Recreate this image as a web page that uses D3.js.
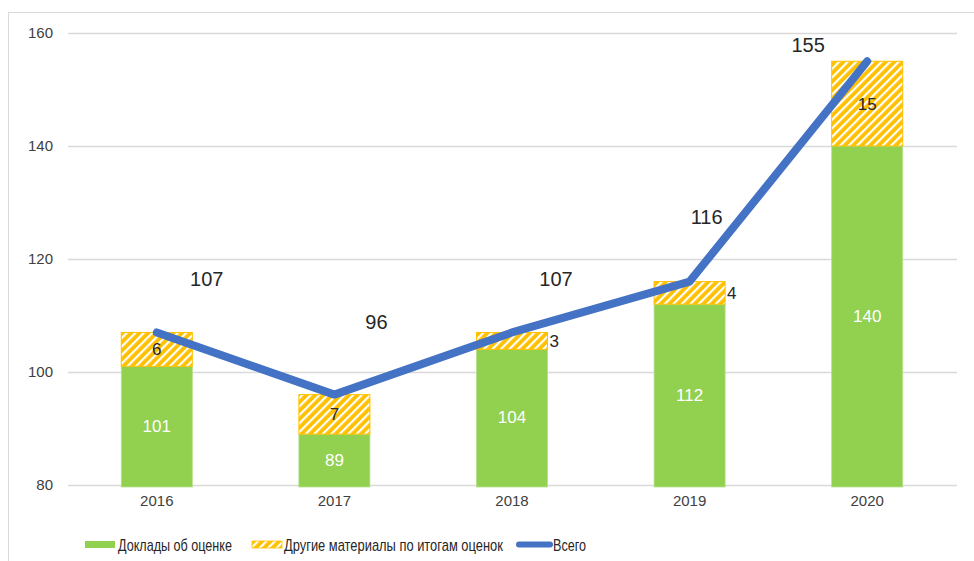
<!DOCTYPE html>
<html>
<head>
<meta charset="utf-8">
<script src="https://cdn.jsdelivr.net/npm/d3@7"></script>
<style>
  body { margin: 0; background: #fff; }
  svg { display: block; font-family: Arial, "Liberation Sans", sans-serif; }
</style>
</head>
<body>
<svg id="chart" width="974" height="561"></svg>
<script>
const years = ['2016', '2017', '2018', '2019', '2020'];
const reports = [101, 89, 104, 112, 140];
const otherMaterials = [6, 7, 3, 4, 15];
const totals = [107, 96, 107, 116, 155];
const yTicks = [80, 100, 120, 140, 160];
const legendLabels = ['Доклады об оценке', 'Другие материалы по итогам оценок', 'Всего'];

// hand-placed label offsets (px) as in the original
const totalLabelOffsets = [[50, -53], [42, -73], [44, -53], [17, -65], [-59, -16]];

const svg = d3.select('#chart');
const green = '#92D050';
const orange = '#FFC000';
const blue = '#4472C4';
const textColor = '#262626';

// frame
svg.append('rect')
  .attr('x', 8.5).attr('y', 12.5)
  .attr('width', 1000).attr('height', 1000)
  .attr('fill', 'none')
  .attr('stroke', '#d9d9d9');

const defs = svg.append('defs');
const pat = defs.append('pattern')
  .attr('id', 'hatch')
  .attr('patternUnits', 'userSpaceOnUse')
  .attr('width', 6).attr('height', 6)
  .attr('patternTransform', 'rotate(45)');
pat.append('rect').attr('width', 6).attr('height', 6).attr('fill', orange);
pat.append('rect').attr('x', 0).attr('width', 2.2).attr('height', 6).attr('fill', '#fff');

const x = d3.scaleBand()
  .domain(years)
  .range([68, 956])
  .paddingInner(0.6)
  .paddingOuter(0.3);

const y = d3.scaleLinear()
  .domain([80, 160])
  .range([485, 33]);

const cx = d => x(d) + x.bandwidth() / 2;

// gridlines
svg.append('g')
  .selectAll('line')
  .data(yTicks)
  .enter()
  .append('line')
  .attr('x1', 68).attr('x2', 957)
  .attr('y1', d => y(d) + 0.5).attr('y2', d => y(d) + 0.5)
  .attr('stroke', '#d9d9d9')
  .attr('stroke-width', 1.5);

// y tick labels
svg.append('g')
  .selectAll('text')
  .data(yTicks)
  .enter()
  .append('text')
  .attr('x', 53)
  .attr('y', d => y(d) + 5)
  .attr('text-anchor', 'end')
  .attr('font-size', 15)
  .attr('fill', '#404040')
  .text(d => d);

// x labels
svg.append('g')
  .selectAll('text')
  .data(years)
  .enter()
  .append('text')
  .attr('x', cx)
  .attr('y', 506)
  .attr('text-anchor', 'middle')
  .attr('font-size', 15)
  .attr('fill', '#404040')
  .text(d => d);

// green bars
svg.append('g')
  .selectAll('rect')
  .data(years)
  .enter()
  .append('rect')
  .attr('x', d => x(d))
  .attr('y', (d, i) => y(reports[i]))
  .attr('width', x.bandwidth())
  .attr('height', (d, i) => y(80) - y(reports[i]) + 2)
  .attr('fill', green)
  .attr('stroke', '#b5e08a')
  .attr('stroke-width', 0.8);

// hatched bars
svg.append('g')
  .selectAll('rect')
  .data(years)
  .enter()
  .append('rect')
  .attr('x', d => x(d))
  .attr('y', (d, i) => y(reports[i] + otherMaterials[i]))
  .attr('width', x.bandwidth())
  .attr('height', (d, i) => y(reports[i]) - y(reports[i] + otherMaterials[i]))
  .attr('fill', 'url(#hatch)')
  .attr('stroke', orange)
  .attr('stroke-width', 1);

// green labels
svg.append('g')
  .selectAll('text')
  .data(years)
  .enter()
  .append('text')
  .attr('x', cx)
  .attr('y', (d, i) => (y(reports[i]) + y(80)) / 2 + 6)
  .attr('text-anchor', 'middle')
  .attr('font-size', 17)
  .attr('fill', '#fff')
  .text((d, i) => reports[i]);

// other-material labels (small segments get the label beside the bar)
svg.append('g')
  .selectAll('text')
  .data(years)
  .enter()
  .append('text')
  .attr('x', (d, i) => otherMaterials[i] < 5 ? x(d) + x.bandwidth() + 2 : cx(d))
  .attr('y', (d, i) => (y(reports[i]) + y(reports[i] + otherMaterials[i])) / 2 + 6)
  .attr('text-anchor', (d, i) => otherMaterials[i] < 5 ? 'start' : 'middle')
  .attr('font-size', 17)
  .attr('fill', textColor)
  .text((d, i) => otherMaterials[i]);

// total line
const line = d3.line()
  .x((d, i) => cx(years[i]))
  .y(d => y(d));

svg.append('path')
  .datum(totals)
  .attr('d', line)
  .attr('fill', 'none')
  .attr('stroke', blue)
  .attr('stroke-width', 8)
  .attr('stroke-linecap', 'round')
  .attr('stroke-linejoin', 'round');

// total labels
svg.append('g')
  .selectAll('text')
  .data(totals)
  .enter()
  .append('text')
  .attr('x', (d, i) => cx(years[i]) + totalLabelOffsets[i][0])
  .attr('y', (d, i) => y(d) + totalLabelOffsets[i][1] + 7)
  .attr('text-anchor', 'middle')
  .attr('font-size', 20)
  .attr('fill', textColor)
  .text(d => d);

// legend
const legend = svg.append('g').attr('font-size', 17).attr('fill', textColor);

function legendText(label, x0, width) {
  const t = legend.append('text').text(label);
  const natural = t.node().getComputedTextLength();
  t.attr('transform', `translate(${x0},550.5) scale(${width / natural},1)`);
}

legend.append('rect').attr('x', 85).attr('y', 541).attr('width', 30).attr('height', 7).attr('fill', green);
legendText(legendLabels[0], 118, 114);
legend.append('rect').attr('x', 252).attr('y', 541).attr('width', 30).attr('height', 7)
  .attr('fill', 'url(#hatch)').attr('stroke', orange).attr('stroke-width', 0.8);
legendText(legendLabels[1], 284, 219);
legend.append('line').attr('x1', 519).attr('x2', 550).attr('y1', 544.5).attr('y2', 544.5)
  .attr('stroke', blue).attr('stroke-width', 6).attr('stroke-linecap', 'round');
legendText(legendLabels[2], 553, 33);
</script>
</body>
</html>
